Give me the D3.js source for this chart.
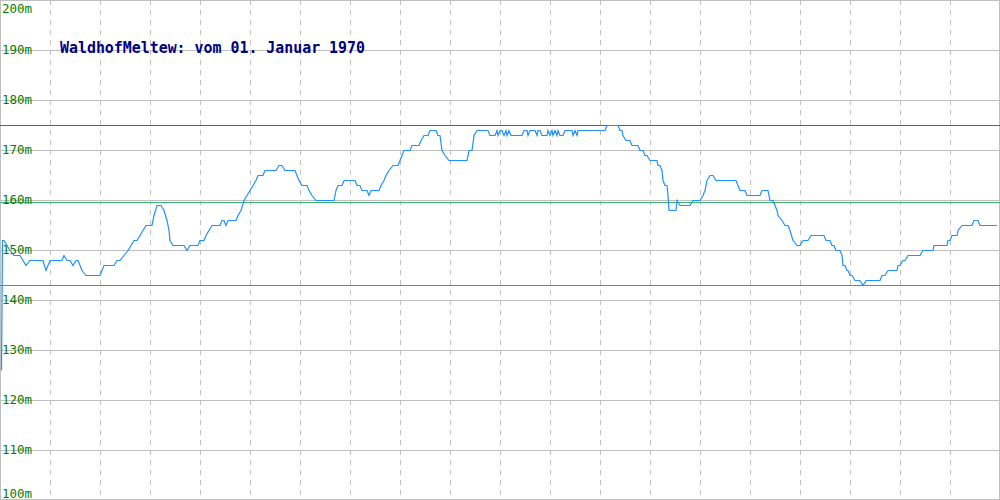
<!DOCTYPE html>
<html><head><meta charset="utf-8">
<script src="https://cdn.jsdelivr.net/npm/d3@7"></script>
<style>body{margin:0;background:#fff}svg{display:block}</style>
</head><body><svg id="c" width="1000" height="500"></svg>
<script>
// ---- data ----
const chartTitle = "WaldhofMeltew: vom 01. Januar 1970";
const yTicks = [200, 190, 180, 170, 160, 150, 140, 130, 120, 110, 100];
const xGrid = [50, 100, 150, 200, 250, 300, 350, 400, 450, 500, 550, 600, 650, 700, 750, 800, 850, 900, 950];
const limitValues = [175, 159.6, 143];
const limitColors = ["#2a8a2a", "#3cb371", "#2aa096"];
const samples = [1.5,2.5,4,7,10,14,20,26,30,43,46,50,62,64,67,70,73,76,78,80,82,86,100,104,114,117,120,124,128,131,134,137,140,143,146,152,154,157,161,164,167,169,170,173,184,187,190,198,200,204,206,209,212,220,222,224,226,228,236,238,241,244,247,250,253,256,258,263,265,276,279,282,285,295,297,299,302,307,309,312,316,334,336,338,342,344,355,357,360,362,367,369,371,379,381,384,386,389,393,398,400,402,404,410,412,419,421,424,428,430,436,438,440,442,445,449,467,469,472,474,477,488,490,495,497,498,500,502,504,506,507,509,511,522,524,527,528,530,535,537,538,540,542,547,548,550,552,553,555,557,558,560,563,565,572,573,575,577,578,605,607,618,620,622,623,626,630,632,638,640,643,645,647,650,657,658,660,662,663,665,667,668,669,676,677,680,690,693,700,703,705,707,710,713,716,736,738,740,745,747,760,762,768,770,773,775,777,778,782,785,788,790,793,797,800,803,808,811,824,826,830,832,834,836,840,842,843,845,847,848,850,852,855,860,863,866,880,882,885,888,897,898,900,903,905,908,920,923,933,934,947,948,950,952,957,958,962,972,974,978,980,997];
const levels = [126,152,152,151,150,149,149,147,148,148,146,148,148,149,148,148,147,148,148,147,146,145,145,147,147,148,148,149,150,151,152,152,153,154,155,155,157,159,159,158,156,154,152,151,151,150,151,151,152,152,153,154,155,155,156,156,155,156,156,157,158,160,161,162,163,164,165,165,166,166,167,167,166,166,165,164,163,163,162,161,160,160,162,163,163,164,164,163,163,162,162,161,162,162,163,164,165,166,167,167,168,169,170,170,171,171,172,173,173,174,174,173,173,170,169,168,168,170,170,173,174,174,173,173,174,173,174,174,173,174,173,174,173,173,174,174,173,174,174,173,174,174,173,173,174,173,174,173,174,173,174,173,173,174,174,173,174,173,174,174,175,175,174,174,173,172,172,171,171,170,170,169,169,168,168,167,167,166,164,163,163,161,158,158,160,159,159,160,160,161,162,164,165,165,164,164,163,162,162,161,161,162,162,160,160,159,158,157,156,155,155,154,152,151,151,152,152,153,153,152,152,151,151,150,150,149,147,147,146,146,145,145,144,144,143,144,144,145,145,146,146,147,147,148,148,149,149,150,150,151,151,152,152,153,153,154,155,155,156,156,155,155];

// ---- chart ----
const W = 1000, H = 500;
const svg = d3.select("#c");
const x = d3.scaleLinear().domain([0, 1000]).range([0, W]);
const y = d3.scaleLinear().domain([100, 200]).range([H, 0]);

svg.append("rect").attr("width", W).attr("height", H).attr("fill", "#fff");

// horizontal grid
svg.append("g").selectAll("line").data(yTicks).join("line")
  .attr("x1", 0).attr("x2", W)
  .attr("y1", d => Math.min(H - 0.5, Math.round(y(d)) + 0.5))
  .attr("y2", d => Math.min(H - 0.5, Math.round(y(d)) + 0.5))
  .attr("stroke", "#c0c0c0").attr("stroke-width", 1);

// vertical dashed grid
svg.append("g").selectAll("line").data(xGrid).join("line")
  .attr("x1", d => Math.round(x(d)) + 0.5).attr("x2", d => Math.round(x(d)) + 0.5)
  .attr("y1", 0).attr("y2", H)
  .attr("stroke", "#c0c0c0").attr("stroke-width", 1)
  .attr("stroke-dasharray", "5,5");

// border
svg.append("rect").attr("x", 0.5).attr("y", 0.5).attr("width", W - 1).attr("height", H - 1)
  .attr("fill", "none").attr("stroke", "#c0c0c0");

// limit lines
svg.append("g").selectAll("line").data(limitValues).join("line")
  .attr("x1", 0).attr("x2", W)
  .attr("y1", d => Math.round(y(d)) + 0.5).attr("y2", d => Math.round(y(d)) + 0.5)
  .attr("stroke", (d, i) => limitColors[i]).attr("stroke-width", 1);

// y labels
svg.append("g").selectAll("text").data(yTicks).join("text")
  .attr("x", 2)
  .attr("y", d => Math.max(13, Math.min(498, y(d) + 4)))
  .attr("font-family", "DejaVu Sans Mono, monospace")
  .attr("font-size", 12.5)
  .attr("fill", "#008000")
  .text(d => d + "m");

// data line
const pts = samples.map((s, i) => [s, levels[i]]);
svg.append("path").datum(pts)
  .attr("d", d3.line().x(d => x(d[0])).y(d => y(d[1]) + 0.5))
  .attr("fill", "none").attr("stroke", "#1e90ff").attr("stroke-width", 1.2)
  .attr("stroke-linejoin", "miter");

// title
svg.append("text").attr("x", 60).attr("y", 53)
  .attr("font-family", "DejaVu Sans Mono, monospace")
  .attr("font-size", 15).attr("font-weight", "bold")
  .attr("fill", "#000080")
  .attr("textLength", 305).attr("lengthAdjust", "spacingAndGlyphs")
  .text(chartTitle);
</script></body></html>
